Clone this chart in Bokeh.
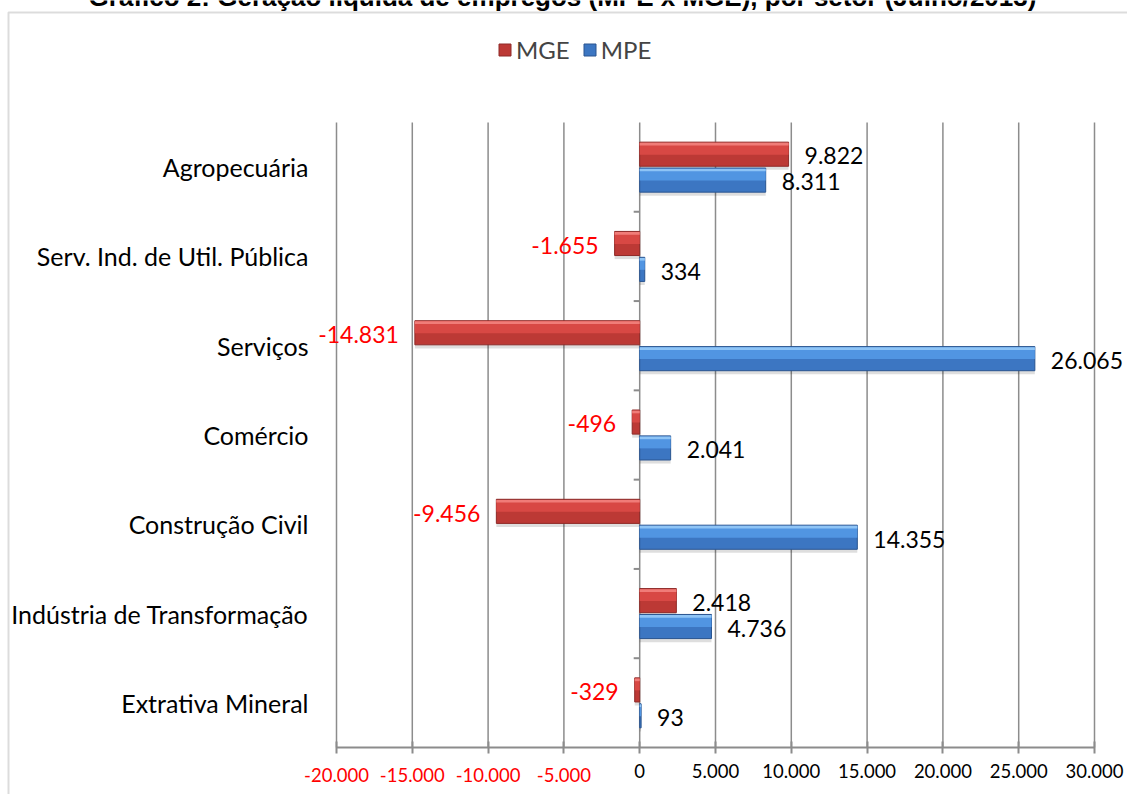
from bokeh.plotting import figure
from bokeh.models import (Range1d, FixedTicker, BoxAnnotation, Legend, LegendItem)
from bokeh.embed import file_html
from bokeh.resources import INLINE
from bokeh.core.properties import value

# ---------------- data ----------------
title_text = "Gráfico 2: Geração líquida de empregos (MPE x MGE), por setor (Julho/2013)"
categories = ["Agropecuária", "Serv. Ind. de Util. Pública", "Serviços", "Comércio",
              "Construção Civil", "Indústria de Transformação", "Extrativa Mineral"]
mge = [9822, -1655, -14831, -496, -9456, 2418, -329]
mpe = [8311, 334, 26065, 2041, 14355, 4736, 93]
x_ticks = [-20000, -15000, -10000, -5000, 0, 5000, 10000, 15000, 20000, 25000, 30000]
x_tick_labels = ["-20.000", "-15.000", "-10.000", "-5.000", "0", "5.000", "10.000",
                 "15.000", "20.000", "25.000", "30.000"]
series_names = ["MGE", "MPE"]

def fmt(v):
    return f"{v:,}".replace(",", ".")

# ---------------- layout constants (page px) ----------------
W, H = 1127, 794
FL, FR, FT, FB = 336, 1094, 122, 747          # plot-area edges
XMIN, XMAX = -20000, 30000
n = len(categories)
pxx = (FR - FL) / (XMAX - XMIN)
pxy = (FB - FT) / n

def xd(cx):  # px -> data x
    return XMIN + (cx - FL) / pxx

def yd(cy):  # px -> data y
    return n - (cy - FT) / pxy

centers = [n - i - 0.5 for i in range(n)]
off = 0.145
bh = 0.27

RED = dict(base="#BC3935", upper="#D84844", top="#F07C78", edge="#8E2A28")
BLUE = dict(base="#3C76C2", upper="#5195E2", top="#8EC4F6", edge="#2A5590")
GRID = "#8C8C8C"
FONT = "Lato"

p = figure(width=W, height=H, x_range=Range1d(xd(0), xd(W)), y_range=Range1d(yd(H), yd(0)),
           output_backend="svg", toolbar_location=None,
           min_border_left=0, min_border_right=0, min_border_top=0, min_border_bottom=0)
p.outline_line_color = None
p.background_fill_color = "white"
p.border_fill_color = "white"
p.xgrid.visible = False
p.ygrid.visible = False

# vertical grid lines, only inside the plot area
p.segment(x0=x_ticks, x1=x_ticks, y0=[0] * len(x_ticks), y1=[n] * len(x_ticks),
          line_color=GRID, line_width=1.5)

# x axis, pinned at y = 0
p.xaxis.fixed_location = 0
p.xaxis.bounds = (XMIN, XMAX)
p.xaxis.ticker = FixedTicker(ticks=x_ticks)
p.xaxis.major_label_overrides = {t: (lab if t >= 0 else "") for t, lab in zip(x_ticks, x_tick_labels)}
p.xaxis.axis_line_color = GRID
p.xaxis.axis_line_width = 2
p.xaxis.major_tick_line_color = GRID
p.xaxis.major_tick_line_width = 2
p.xaxis.major_tick_in = 6
p.xaxis.major_tick_out = 6
p.xaxis.minor_tick_line_color = None
p.xaxis.major_label_text_font = FONT
p.xaxis.major_label_text_font_size = "18.5px"
p.xaxis.major_label_text_color = "black"
p.xaxis.major_label_standoff = 10

# negative tick labels in red
neg_ticks = [(t, lab) for t, lab in zip(x_ticks, x_tick_labels) if t < 0]
p.text(x=[t for t, _ in neg_ticks], y=[yd(774)] * len(neg_ticks),
       text=[lab for _, lab in neg_ticks], text_align="center", text_baseline="middle",
       text_color="red", text_font=value(FONT), text_font_size="18.5px")

# y axis (category labels), pinned at the left edge of the plot area
p.yaxis.fixed_location = XMIN
p.yaxis.bounds = (0, n)
p.yaxis.ticker = FixedTicker(ticks=centers)
p.yaxis.major_label_overrides = {c: cat for c, cat in zip(centers, categories)}
p.yaxis.axis_line_color = None
p.yaxis.major_tick_line_color = None
p.yaxis.minor_tick_line_color = None
p.yaxis.major_label_text_font = FONT
p.yaxis.major_label_text_font_size = "25px"
p.yaxis.major_label_text_color = "black"
p.yaxis.major_label_standoff = 22

# category boundary ticks on the zero line
bounds = list(range(1, n))
p.segment(x0=[0] * len(bounds), x1=[-6 / pxx] * len(bounds), y0=bounds, y1=bounds,
          line_color=GRID, line_width=2)

# bars with a simple bevel look
def draw_series(vals, dy, c):
    ys = [cy + dy for cy in centers]
    p.hbar(y=[y - 0.04 for y in ys], left=0, right=vals, height=bh,
           fill_color="#000000", fill_alpha=0.13, line_color=None)
    r = p.hbar(y=ys, left=0, right=vals, height=bh, fill_color=c["base"],
               line_color=c["edge"], line_width=1)
    p.hbar(y=[y + bh / 2 - 0.075 for y in ys], left=0, right=vals, height=0.13,
           fill_color=c["upper"], line_color=None)
    p.hbar(y=[y + bh / 2 - 0.022 for y in ys], left=0, right=vals, height=0.03,
           fill_color=c["top"], line_color=None)
    return r, ys

r_mge, y_mge = draw_series(mge, off, RED)
r_mpe, y_mpe = draw_series(mpe, -off, BLUE)

# value labels
for vals, ys in ((mge, y_mge), (mpe, y_mpe)):
    pos = [(v, y) for v, y in zip(vals, ys) if v >= 0]
    neg = [(v, y) for v, y in zip(vals, ys) if v < 0]
    if pos:
        p.text(x=[v for v, _ in pos], y=[y - 0.02 for _, y in pos],
               text=[fmt(v) for v, _ in pos], x_offset=16, text_align="left",
               text_baseline="middle", text_color="black", text_font=value(FONT),
               text_font_size="23px")
    if neg:
        p.text(x=[v for v, _ in neg], y=[y - 0.02 for _, y in neg],
               text=[fmt(v) for v, _ in neg], x_offset=-16, text_align="right",
               text_baseline="middle", text_color="red", text_font=value(FONT),
               text_font_size="23px")

# legend
legend = Legend(items=[LegendItem(label=series_names[0], renderers=[r_mge]),
                       LegendItem(label=series_names[1], renderers=[r_mpe])],
                orientation="horizontal", location=(497, H - 64))
legend.border_line_color = None
legend.background_fill_alpha = 0
legend.label_text_font = FONT
legend.label_text_font_size = "24px"
legend.glyph_width = 15
legend.glyph_height = 15
legend.label_standoff = 4
legend.spacing = 12
legend.padding = 0
legend.margin = 0
p.add_layout(legend)

# outer chart-area border
p.add_layout(BoxAnnotation(left=xd(8), right=xd(W + 50), top=yd(12), bottom=yd(H + 50),
                           fill_alpha=0, line_color="#8A8A8A", line_width=2))

# title (clipped at the top edge, as in the reference)
p.text(x=[xd(562)], y=[yd(-4)], text=[title_text], text_align="center",
       text_baseline="alphabetic", text_font=value("Liberation Sans"),
       text_font_style="bold", text_font_size="26px", text_color="black")

open("out.html", "w").write(file_html(p, INLINE))
